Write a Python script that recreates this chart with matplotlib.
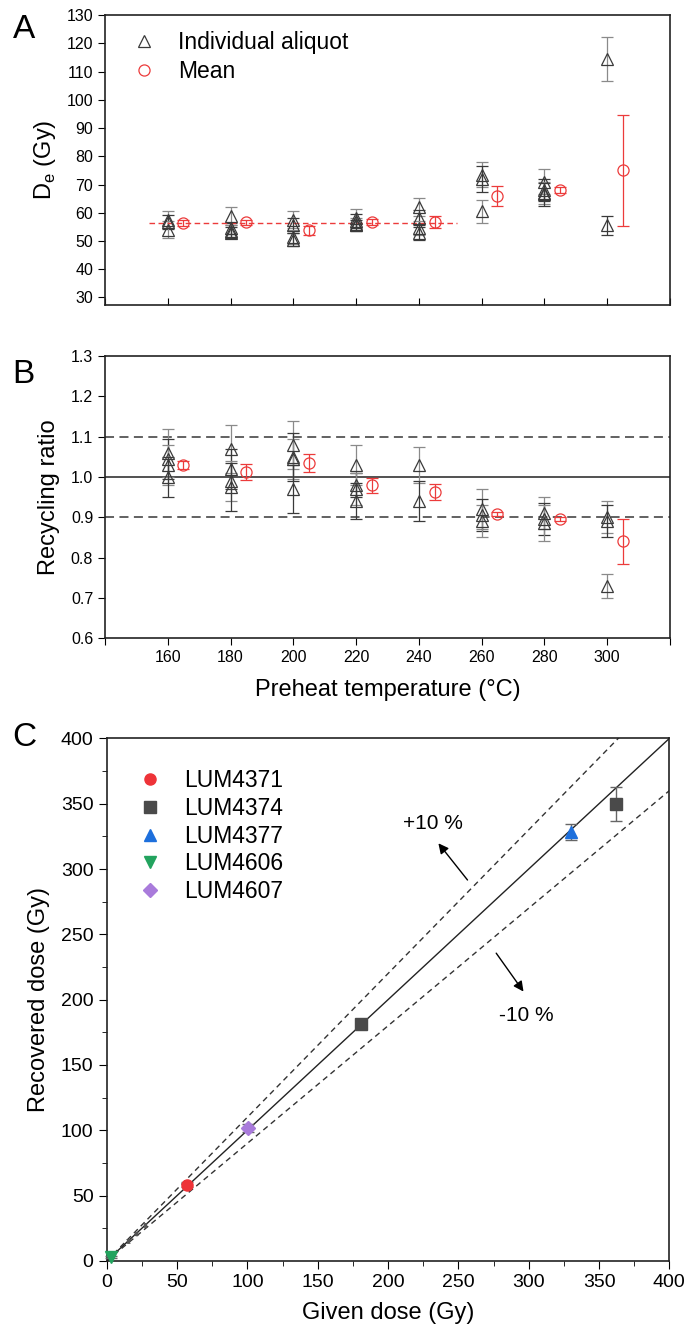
import numpy as np
import matplotlib.pyplot as plt
from matplotlib.ticker import MultipleLocator, FixedLocator
from matplotlib.lines import Line2D

plt.rcParams['font.family'] = ['Liberation Sans', 'DejaVu Sans']
plt.rcParams['mathtext.fontset'] = 'custom'
plt.rcParams['mathtext.rm'] = 'Liberation Sans'

# Panel A / B : preheat plateau
temps = [160, 180, 200, 220, 240, 260, 280, 300]

de_ind = [[57.5, 56.8, 54.0],
          [59.0, 54.5, 53.5, 53.0],
          [57.5, 55.5, 51.5, 50.5],
          [58.0, 57.0, 56.0, 55.5],
          [62.0, 58.0, 54.5, 53.0],
          [73.5, 72.0, 60.5],
          [71.0, 68.0, 67.0, 66.5],
          [114.5, 55.5]]
de_ind_err = [[3.0, 2.5, 3.0],
              [3.2, 2.0, 2.0, 2.0],
              [3.0, 2.5, 2.5, 2.3],
              [3.2, 2.5, 2.0, 2.0],
              [3.2, 3.0, 2.5, 2.5],
              [4.3, 4.5, 4.0],
              [4.5, 4.0, 4.0, 4.0],
              [7.8, 3.5]]
de_mean = [56.3, 56.6, 53.8, 56.8, 56.7, 66.0, 68.0, 75.0]
de_mean_err = [1.0, 1.0, 1.5, 1.0, 2.0, 3.5, 1.0, 19.7]
de_line = 56.5
de_line_x = [154, 252]

rr_ind = [[1.06, 1.045, 1.03, 1.00],
          [1.07, 1.02, 0.99, 0.975],
          [1.08, 1.05, 1.045, 0.97],
          [1.03, 0.98, 0.97, 0.94],
          [1.03, 0.94],
          [0.92, 0.905, 0.89],
          [0.91, 0.895, 0.885],
          [0.90, 0.89, 0.73]]
rr_ind_err = [[0.06, 0.05, 0.05, 0.05],
              [0.06, 0.05, 0.05, 0.06],
              [0.06, 0.06, 0.05, 0.06],
              [0.05, 0.03, 0.04, 0.045],
              [0.045, 0.05],
              [0.05, 0.04, 0.04],
              [0.04, 0.04, 0.045],
              [0.04, 0.04, 0.03]]
rr_mean = [1.03, 1.012, 1.035, 0.979, 0.962, 0.908, 0.895, 0.84]
rr_mean_err = [0.01, 0.02, 0.022, 0.018, 0.02, 0.005, 0.005, 0.055]

# Panel C : dose recovery
samples = ['LUM4371', 'LUM4374', 'LUM4377', 'LUM4606', 'LUM4607']
given = [[57], [181, 362], [330], [3], [100.5]]
recovered = [[58.5], [181.5, 349.5], [328.5], [3], [102]]
recovered_err = [[2], [3, 13], [6], [1], [3]]
colors = ['#ee3338', '#4a4a4a', '#1d6fdc', '#22a35e', '#a97bdb']
markers = ['o', 's', '^', 'v', 'D']
small_given = [15, 21, 27]
small_recovered = [15, 21, 27.5]

red = '#ec3b3b'
tri_c = '#3a3a3a'

fig = plt.figure(figsize=(6.91, 13.44), dpi=100)
axA = fig.add_axes([0.152, 0.7734, 0.8176, 0.2154])
axB = fig.add_axes([0.152, 0.5251, 0.8176, 0.2100])
axC = fig.add_axes([0.1544, 0.0618, 0.8143, 0.3888])

# ---- A
for t, vals, errs in zip(temps, de_ind, de_ind_err):
    for k, (v, e) in enumerate(zip(vals, errs)):
        ec = '#8a8a8a' if k % 2 == 0 else '#3a3a3a'
        axA.errorbar(t, v, yerr=e, fmt='^', mfc='none', mec=tri_c, ms=9, mew=0.9,
                     ecolor=ec, elinewidth=0.9, capsize=4, capthick=0.9)
axA.errorbar(np.array(temps) + 5, de_mean, yerr=de_mean_err, fmt='o', mfc='none',
             mec=red, ms=8, mew=0.9, ecolor=red, elinewidth=0.9, capsize=4, capthick=0.9)
axA.plot(de_line_x, [de_line, de_line], '--', color=red, lw=1.0, dashes=(4, 2.5))
legA = [Line2D([], [], marker='^', mfc='none', mec=tri_c, ms=9, mew=0.9, ls='none'),
        Line2D([], [], marker='o', mfc='none', mec=red, ms=8, mew=0.9, ls='none')]
axA.legend(legA, ['Individual aliquot', 'Mean'], loc='upper left', frameon=False,
           fontsize=16.5, handletextpad=0.5, borderaxespad=0.3, labelspacing=0.25,
           bbox_to_anchor=(0.0, 1.0))
axA.set_xlim(140, 320)
axA.set_ylim(27.5, 130)
axA.yaxis.set_major_locator(MultipleLocator(10))
axA.xaxis.set_major_locator(FixedLocator(list(range(140, 321, 20))))
axA.tick_params(axis='x', direction='in', labelbottom=False, length=5)
axA.tick_params(axis='y', direction='out', length=5, labelsize=11.5)
axA.set_ylabel(r'D$_\mathregular{e}$ (Gy)', fontsize=17, labelpad=6)
fig.text(0.018, 0.972, 'A', fontsize=24)

# ---- B
axB.axhline(1.1, color='#555555', ls='--', lw=1.3, dashes=(5, 3))
axB.axhline(0.9, color='#555555', ls='--', lw=1.3, dashes=(5, 3))
axB.axhline(1.0, color='#222222', lw=1.1)
for t, vals, errs in zip(temps, rr_ind, rr_ind_err):
    for k, (v, e) in enumerate(zip(vals, errs)):
        ec = '#8a8a8a' if k % 2 == 0 else '#3a3a3a'
        axB.errorbar(t, v, yerr=e, fmt='^', mfc='none', mec=tri_c, ms=9, mew=0.9,
                     ecolor=ec, elinewidth=0.9, capsize=4, capthick=0.9)
axB.errorbar(np.array(temps) + 5, rr_mean, yerr=rr_mean_err, fmt='o', mfc='none',
             mec=red, ms=8, mew=0.9, ecolor=red, elinewidth=0.9, capsize=4, capthick=0.9)
axB.set_xlim(140, 320)
axB.set_ylim(0.6, 1.3)
axB.yaxis.set_major_locator(MultipleLocator(0.1))
axB.xaxis.set_major_locator(FixedLocator(list(range(140, 321, 20))))
axB.set_xticklabels([''] + [str(t) for t in temps] + [''])
axB.tick_params(direction='out', length=5, labelsize=11.5)
axB.set_ylabel('Recycling ratio', fontsize=17, labelpad=8)
axB.set_xlabel('Preheat temperature (°C)', fontsize=17, labelpad=10)
fig.text(0.018, 0.715, 'B', fontsize=24)

# ---- C
xs = np.array([0, 400])
axC.plot(xs, xs, color='#222222', lw=1.0)
axC.plot(xs, 1.1 * xs, '--', color='#333333', lw=1.0, dashes=(4, 3))
axC.plot(xs, 0.9 * xs, '--', color='#333333', lw=1.0, dashes=(4, 3))
axC.errorbar(small_given, small_recovered, yerr=1.5, fmt='s', color='#555555', ms=2,
             elinewidth=0.6, capsize=1.5, capthick=0.6)
legC = []
for name, g, r, e, c, m in zip(samples, given, recovered, recovered_err, colors, markers):
    ms = 8 if m != 'D' else 7
    axC.errorbar(g, r, yerr=e, fmt=m, color=c, ms=ms, mec=c, ecolor='#666666',
                 elinewidth=1.0, capsize=4, capthick=1.0, clip_on=False, zorder=5)
    legC.append(Line2D([], [], marker=m, color=c, mec=c, ms=ms, ls='none'))
axC.annotate('', xy=(235.8, 319.7), xytext=(256.5, 291.6),
             arrowprops=dict(arrowstyle='-|>', color='black', lw=1.0, mutation_scale=15,
                             shrinkA=0, shrinkB=0))
axC.annotate('', xy=(296.3, 206.2), xytext=(276.9, 235.6),
             arrowprops=dict(arrowstyle='-|>', color='black', lw=1.0, mutation_scale=15,
                             shrinkA=0, shrinkB=0))
axC.text(232, 335, '+10 %', fontsize=15, ha='center', va='center')
axC.text(298, 188, '-10 %', fontsize=15, ha='center', va='center')
axC.legend(legC, samples, loc='upper left', frameon=False, fontsize=16.5, handletextpad=0.5,
           labelspacing=0.2, borderaxespad=0.5, bbox_to_anchor=(0.0, 0.98))
axC.set_xlim(0, 400)
axC.set_ylim(0, 400)
axC.xaxis.set_major_locator(MultipleLocator(50))
axC.yaxis.set_major_locator(MultipleLocator(50))
axC.xaxis.set_minor_locator(MultipleLocator(25))
axC.yaxis.set_minor_locator(MultipleLocator(25))
axC.tick_params(which='major', direction='out', length=6, labelsize=14)
axC.tick_params(which='minor', direction='out', length=3.5)
axC.set_xlabel('Given dose (Gy)', fontsize=17, labelpad=8)
axC.set_ylabel('Recovered dose (Gy)', fontsize=17, labelpad=8)
fig.text(0.018, 0.445, 'C', fontsize=24)

for ax in (axA, axB, axC):
    for s in ax.spines.values():
        s.set_linewidth(1.2)
        s.set_color('#222222')

fig.savefig('out.png', dpi=100)
